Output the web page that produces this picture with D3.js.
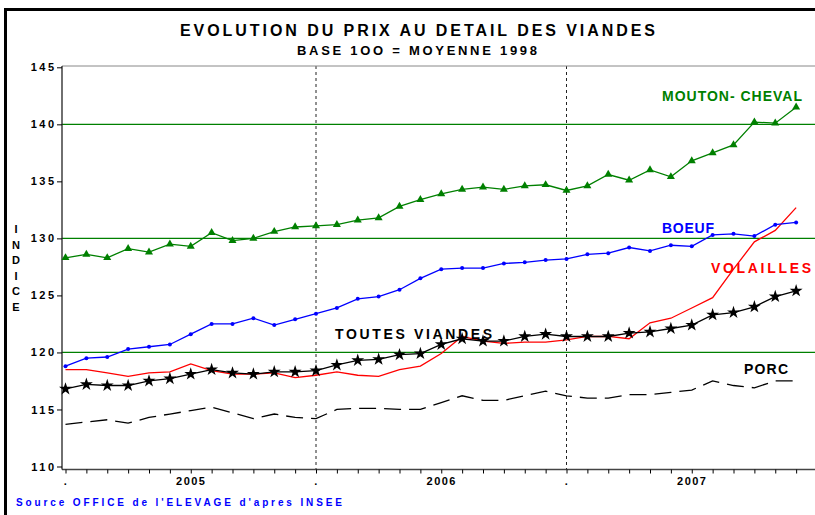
<!DOCTYPE html>
<html>
<head>
<meta charset="utf-8">
<script src="https://cdn.jsdelivr.net/npm/d3@7"></script>
<style>
  body { margin: 0; background: #fff; }
  text { font-family: "Liberation Sans", Arial, sans-serif; font-weight: bold; }
</style>
</head>
<body>
<script>
// sizes
const width = 815
const height = 515

// data : indices mensuels janv. 2005 -> dec. 2007
const years = ["2005", "2006", "2007"]
const yTicks = [110, 115, 120, 125, 130, 135, 140, 145]
const gridValues = [120, 130, 140]

const mouton = [128.3, 128.6, 128.3, 129.1, 128.8, 129.5, 129.3, 130.5, 129.8, 130.0, 130.6, 131.0,
                131.1, 131.2, 131.6, 131.8, 132.8, 133.4, 133.9, 134.3, 134.5, 134.3, 134.6, 134.7,
                134.2, 134.6, 135.6, 135.1, 136.0, 135.4, 136.8, 137.5, 138.2, 140.2, 140.1, 141.5]
const boeuf = [118.8, 119.5, 119.6, 120.3, 120.5, 120.7, 121.6, 122.5, 122.5, 123.0, 122.4, 122.9,
               123.4, 123.9, 124.7, 124.9, 125.5, 126.5, 127.3, 127.4, 127.4, 127.8, 127.9, 128.1,
               128.2, 128.6, 128.7, 129.2, 128.9, 129.4, 129.3, 130.3, 130.4, 130.2, 131.2, 131.4]
const volailles = [118.5, 118.5, 118.2, 117.9, 118.2, 118.3, 119.0, 118.4, 118.1, 118.1, 118.2, 117.8,
                   118.0, 118.3, 118.0, 117.9, 118.5, 118.8, 119.9, 121.4, 121.0, 120.8, 120.9, 120.9,
                   121.1, 121.4, 121.4, 121.2, 122.6, 123.0, 123.9, 124.8, 127.3, 129.7, 130.7, 132.7]
const toutes = [116.8, 117.2, 117.1, 117.1, 117.5, 117.7, 118.1, 118.5, 118.2, 118.1, 118.3, 118.3,
                118.4, 118.9, 119.3, 119.4, 119.8, 119.9, 120.7, 121.2, 121.0, 121.0, 121.4, 121.6,
                121.4, 121.4, 121.4, 121.7, 121.8, 122.1, 122.4, 123.3, 123.5, 124.0, 124.9, 125.4]
const porc = [113.7, 113.9, 114.1, 113.8, 114.3, 114.6, 114.9, 115.2, 114.7, 114.2, 114.6, 114.3,
              114.2, 115.0, 115.1, 115.1, 115.0, 115.0, 115.6, 116.2, 115.8, 115.8, 116.2, 116.6,
              116.2, 116.0, 116.0, 116.3, 116.3, 116.5, 116.7, 117.5, 117.1, 116.9, 117.5, 117.5]

const green = "#008000"

const svg = d3.select("body").append("svg")
    .attr("width", width)
    .attr("height", height)

// outer frame
svg.append("rect")
    .attr("x", 5.5).attr("y", 9.5)
    .attr("width", width + 20).attr("height", height + 20)
    .attr("fill", "none").attr("stroke", "#000").attr("stroke-width", 3)

// titles
svg.append("text")
    .attr("x", 180).attr("y", 36)
    .attr("textLength", 475).attr("lengthAdjust", "spacing")
    .style("font-size", "16px")
    .text("EVOLUTION DU PRIX AU DETAIL DES VIANDES")

svg.append("text")
    .attr("x", 297).attr("y", 55)
    .attr("textLength", 240).attr("lengthAdjust", "spacing")
    .style("font-size", "13px")
    .text("BASE 1OO = MOYENNE 1998")

// scales
const x = d3.scaleLinear().domain([0, 36]).range([65.5, 817])
const y = d3.scaleLinear().domain([110, 145]).range([466.5, 67.3])

const plotLeft = 62, plotTop = 66, plotBottom = 469.5

// gridlines
svg.selectAll(".grid").data(gridValues)
  .enter().append("line")
    .attr("x1", plotLeft).attr("x2", width)
    .attr("y1", d => y(d)).attr("y2", d => y(d))
    .attr("stroke", green).attr("stroke-width", 1.3)

// vertical year separators
svg.selectAll(".sep").data([12, 24])
  .enter().append("line")
    .attr("x1", d => x(d)).attr("x2", d => x(d))
    .attr("y1", plotTop).attr("y2", plotBottom)
    .attr("stroke", "#222").attr("stroke-dasharray", "3,3")

// frame lines
svg.append("line").attr("x1", plotLeft).attr("x2", width).attr("y1", plotTop).attr("y2", plotTop)
    .attr("stroke", "#888")
svg.append("line").attr("x1", plotLeft).attr("x2", width).attr("y1", plotBottom).attr("y2", plotBottom)
    .attr("stroke", "#444").attr("stroke-width", 1.3)
svg.append("line").attr("x1", plotLeft).attr("x2", plotLeft).attr("y1", plotTop).attr("y2", plotBottom)
    .attr("stroke", "#222").attr("stroke-width", 1.3)

// y axis
const yAxisG = svg.append("g")
    .attr("transform", `translate(${plotLeft},0)`)
    .call(d3.axisLeft(y).tickValues(yTicks).tickSize(5).tickSizeOuter(0))
yAxisG.select(".domain").remove()
yAxisG.selectAll("text")
    .attr("x", -8)
    .style("font-size", "11px")
    .style("letter-spacing", "2.5px")
    .attr("dx", "2.5px")
    .attr("fill", "#000")
    .style("font-family", "Liberation Sans, Arial, sans-serif")

// y label, one letter per line
const yLabel = "INDICE".split("")
svg.selectAll(".ylab").data(yLabel)
  .enter().append("text")
    .attr("x", 16).attr("y", (d, i) => 233 + i * 15.5)
    .attr("text-anchor", "middle")
    .style("font-size", "11px")
    .text(d => d)

// x axis
const monthTicks = d3.range(0, 36)
const xAxisG = svg.append("g")
    .attr("transform", `translate(0,${plotBottom})`)
    .call(d3.axisBottom(x).tickValues(monthTicks).tickSize(4).tickSizeOuter(0)
        .tickFormat(i => i % 12 === 0 ? "." : (i % 12 === 6 ? years[Math.floor(i / 12)] : "")))
xAxisG.select(".domain").remove()
xAxisG.selectAll("text")
    .attr("y", 8)
    .style("font-size", "11px")
    .style("letter-spacing", "1.5px")
    .attr("fill", "#000")
    .style("font-family", "Liberation Sans, Arial, sans-serif")

// series
const line = d3.line().x((d, i) => x(i)).y(d => y(d))

const drawLine = (data, color, dash) => {
    svg.append("path")
        .datum(data)
        .attr("d", line)
        .attr("fill", "none")
        .attr("stroke", color)
        .attr("stroke-width", 1.3)
        .attr("stroke-dasharray", dash)
}

drawLine(porc, "#000", "17,8")
drawLine(volailles, "#ff0000", null)
drawLine(boeuf, "#0000ff", null)
drawLine(mouton, green, null)
drawLine(toutes, "#000", null)

// markers
svg.selectAll(".tri").data(mouton)
  .enter().append("path")
    .attr("transform", (d, i) => `translate(${x(i)},${y(d)})`)
    .attr("d", d3.symbol(d3.symbolTriangle).size(28))
    .attr("fill", green)

svg.selectAll(".dot").data(boeuf)
  .enter().append("circle")
    .attr("cx", (d, i) => x(i)).attr("cy", d => y(d))
    .attr("r", 2)
    .attr("fill", "#0000ff")

svg.selectAll(".star").data(toutes)
  .enter().append("path")
    .attr("transform", (d, i) => `translate(${x(i)},${y(d)})`)
    .attr("d", d3.symbol(d3.symbolStar).size(52))
    .attr("fill", "#000")

// series labels
const labels = [
    {text: "MOUTON- CHEVAL", x: 662, y: 101, w: 140, color: green},
    {text: "BOEUF", x: 662, y: 233, w: 52, color: "#0000ff"},
    {text: "VOLAILLES", x: 711, y: 273, w: 100, color: "#ff0000"},
    {text: "TOUTES VIANDES", x: 335, y: 339, w: 157, color: "#000"},
    {text: "PORC", x: 744, y: 374, w: 44, color: "#000"}
]
svg.selectAll(".lab").data(labels)
  .enter().append("text")
    .attr("x", d => d.x).attr("y", d => d.y)
    .attr("textLength", d => d.w).attr("lengthAdjust", "spacing")
    .attr("fill", d => d.color)
    .style("font-size", "14px")
    .text(d => d.text)

// source
svg.append("text")
    .attr("x", 16).attr("y", 506)
    .attr("textLength", 326).attr("lengthAdjust", "spacing")
    .attr("fill", "#0000ff")
    .style("font-size", "10px")
    .text("Source OFFICE de l'ELEVAGE d'apres INSEE")
</script>
</body>
</html>
